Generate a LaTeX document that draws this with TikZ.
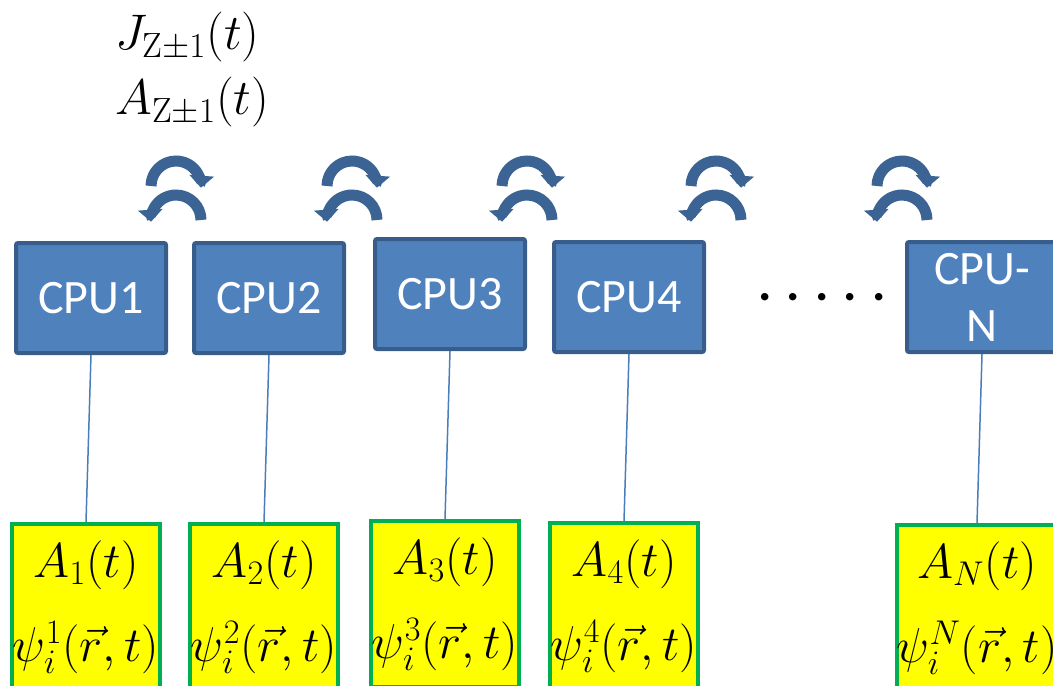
\documentclass[tikz,border=0pt]{standalone}
\usepackage{fix-cm}
\usepackage{fontspec}
\newfontfamily\cpufont{Carlito}
\usetikzlibrary{arrows.meta}
\definecolor{cpufill}{RGB}{79,129,189}
\definecolor{cpuedge}{RGB}{56,93,138}
\definecolor{boxfill}{RGB}{255,255,0}
\definecolor{boxedge}{RGB}{0,176,80}
\definecolor{linkblue}{RGB}{74,126,187}
\definecolor{swapblue}{RGB}{59,99,148}
\tikzset{
  cpu/.style={draw=cpuedge,fill=cpufill,line width=2pt,rounded corners=1pt,
    minimum width=75pt,minimum height=55pt,inner sep=0pt,text=white,
    align=center,font=\cpufont\fontsize{24}{28.5}\selectfont},
  data/.style={draw=boxedge,fill=boxfill,line width=2pt,minimum width=74pt,
    minimum height=83pt,anchor=north,inner sep=0pt,align=center,
    font=\fontsize{24.5}{42}\selectfont},
  link/.style={draw=linkblue,line width=0.75pt},
  swap/.style={draw=swapblue,line width=5.5pt,-{Triangle[width=12pt,length=6pt]}}
}
\begin{document}
\begin{tikzpicture}[x=0.5pt,y=-0.5pt]
	\clip (0,0) rectangle (1053,685);
	% exchanged fields
	\node[anchor=north west,inner sep=0pt,align=left,font=\fontsize{25}{32.5}\selectfont] (lbl) at (115,12)
		{$J_{\mathrm{Z}\pm1}(t)$\\$A_{\mathrm{Z}\pm1}(t)$};
	\foreach \cx in {176,352,527,716,902}{
		\draw[swap] (\cx-25,186) arc[start angle=180,end angle=364,radius=25];
		\draw[swap] (\cx+25,220) arc[start angle=360,end angle=176,radius=25];
	}
	% processors
	\node[cpu] (c1) at (91,298) {CPU1};
	\node[cpu] (c2) at (269,298) {CPU2};
	\node[cpu] (c3) at (450,294) {CPU3};
	\node[cpu] (c4) at (629,297) {CPU4};
	\node[font=\cpufont\bfseries\fontsize{25}{28}\selectfont,inner sep=0pt] (dots) at (822,297) {. . . . .};
	\node[cpu] (cn) at (982,297) {CPU-\\N};
	% local data
	\node[data] (d1) at (86,522) {$A_1(t)$\\$\psi_i^1(\vec r,t)$};
	\node[data] (d2) at (264,522) {$A_2(t)$\\$\psi_i^2(\vec r,t)$};
	\node[data] (d3) at (445,519) {$A_3(t)$\\$\psi_i^3(\vec r,t)$};
	\node[data] (d4) at (624,521) {$A_4(t)$\\$\psi_i^4(\vec r,t)$};
	\node[data] (dn) at (977,523) {$A_N(t)$\\$\psi_i^N(\vec r,t)$};
	\draw[link] (c1.south) -- (d1.north);
	\draw[link] (c2.south) -- (d2.north);
	\draw[link] (c3.south) -- (d3.north);
	\draw[link] (c4.south) -- (d4.north);
	\draw[link] (cn.south) -- (dn.north);
\end{tikzpicture}
\end{document}
